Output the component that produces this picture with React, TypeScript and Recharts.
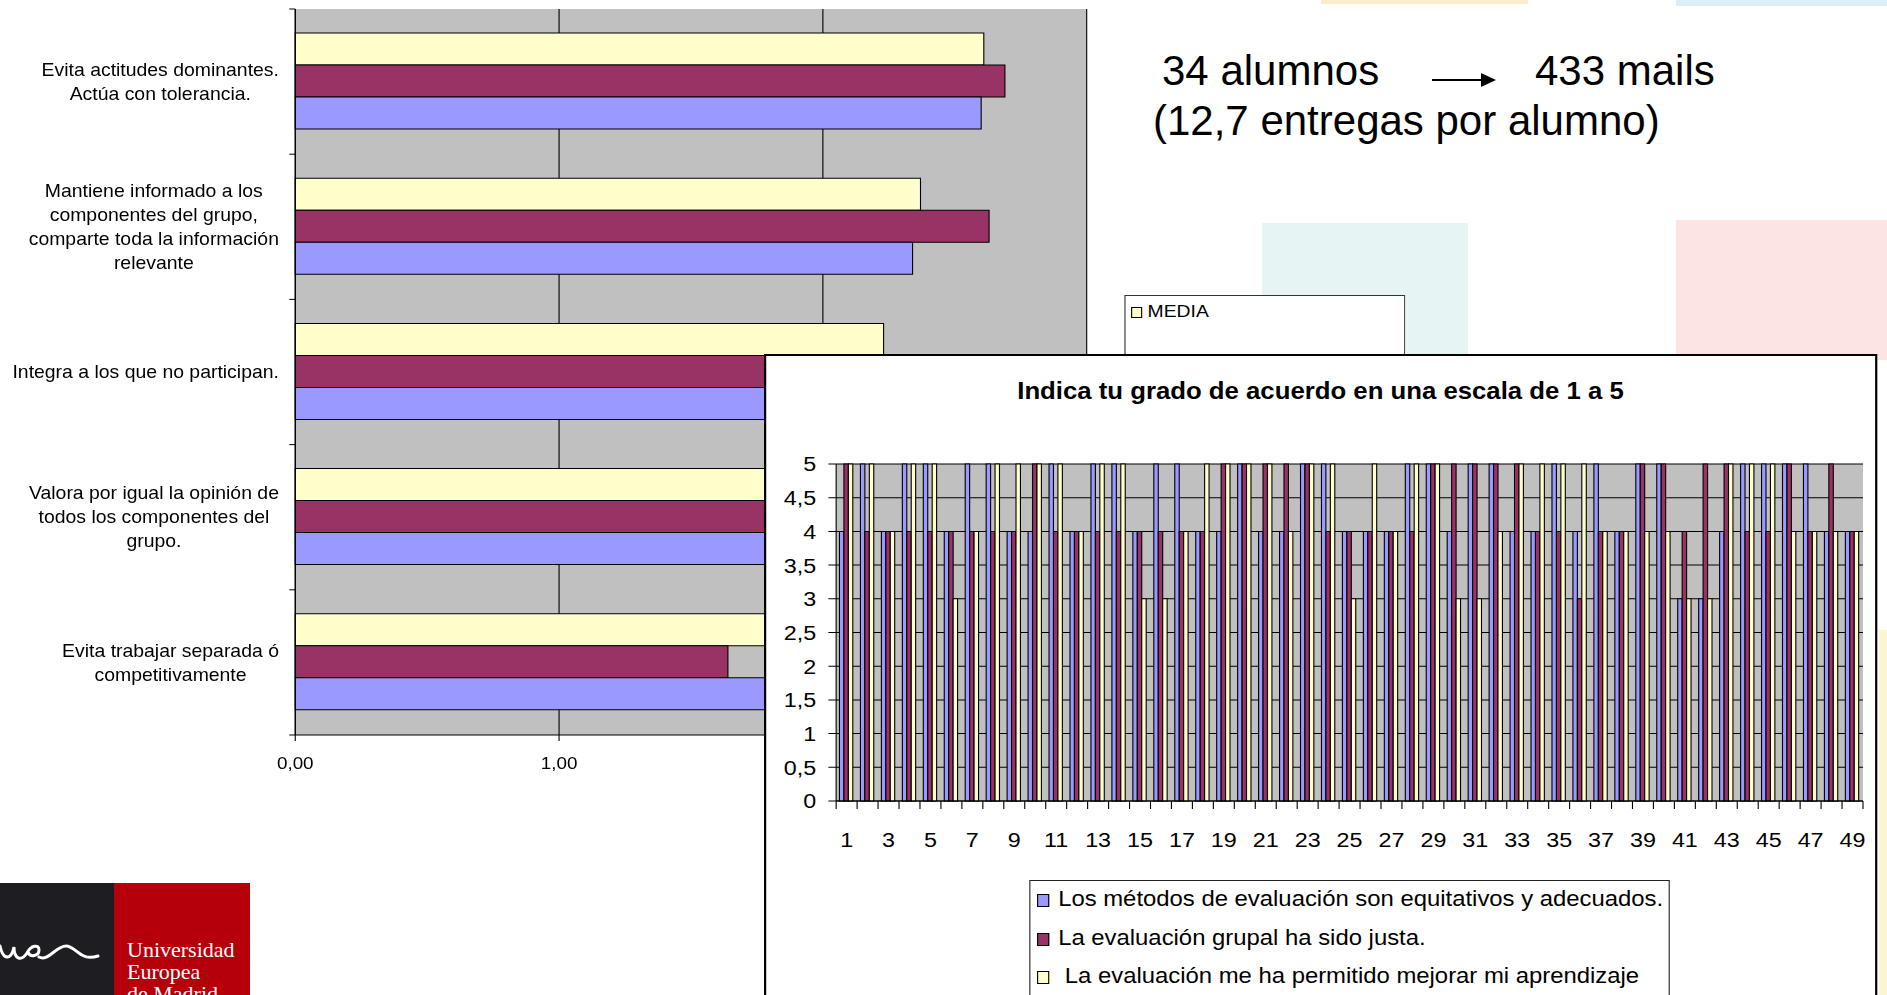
import React from "react";
import { BarChart, Bar, XAxis, YAxis, CartesianGrid, Legend } from "recharts";

// both pasted charts are stretched sideways on the slide, text too
const S = 1.11;
const FONT = "'Liberation Sans', Arial, sans-serif";

const BLUE = "#9999FF";
const MAROON = "#993366";
const YELLOW = "#FFFFCC";
const PLOT_BG = "#C0C0C0";

// ---- back chart (group work, horizontal bars) ----
const backCategories = [
  "Evita actitudes dominantes.\nActúa con tolerancia.",
  "Mantiene informado a los\ncomponentes del grupo,\ncomparte toda la información\nrelevante",
  "Integra a los que no participan.",
  "Valora por igual la opinión de\ntodos los componentes del\ngrupo.",
  "Evita trabajar separada ó\ncompetitivamente",
];
const backMedia = [2.61, 2.37, 2.23, 2.4, 2.1];
const backSerie2 = [2.69, 2.63, 2.3, 2.5, 1.64];
const backSerie1 = [2.6, 2.34, 2.3, 2.3, 2.0];
const backTicks = [0, 1, 2, 3];

// ---- front chart (one group of bars per student) ----
const respondents = [
  "1", "2", "3", "4", "5", "6", "7", "8", "9", "10", "11", "12", "13", "14", "15", "16", "17",
  "18", "19", "20", "21", "22", "23", "24", "25", "26", "27", "28", "29", "30", "31", "32", "33",
  "34", "35", "36", "37", "38", "39", "40", "41", "42", "43", "44", "45", "46", "47", "48", "49",
];
const metodos = [4, 5, 4, 5, 5, 4, 5, 5, 4, 4, 5, 4, 5, 5, 4, 5, 5, 4, 4, 5, 4, 4, 5, 5, 4, 4, 4, 5, 5, 4, 5, 5, 4, 4, 5, 4, 5, 4, 5, 5, 3, 3, 4, 5, 5, 5, 5, 4, 4];
const grupal = [5, 4, 4, 4, 4, 4, 4, 4, 4, 5, 4, 4, 4, 4, 4, 4, 4, 4, 5, 5, 5, 5, 5, 4, 4, 4, 4, 4, 5, 5, 5, 5, 5, 4, 4, 3, 4, 4, 5, 5, 4, 5, 5, 4, 4, 5, 4, 5, 4];
const aprendizaje = [5, 5, 4, 5, 5, 3, 4, 5, 5, 5, 5, 4, 5, 5, 3, 3, 4, 5, 5, 5, 5, 4, 5, 5, 3, 5, 4, 5, 5, 3, 3, 4, 5, 5, 5, 5, 4, 4, 4, 4, 3, 3, 5, 5, 5, 4, 4, 4, 4];
const frontTicks = [0, 0.5, 1, 1.5, 2, 2.5, 3, 3.5, 4, 4.5, 5];
const frontOrder = ["metodos", "grupal", "aprendizaje"];

const backData = backCategories.map((label, i) => ({
  label,
  media: backMedia[i],
  s2: backSerie2[i],
  s1: backSerie1[i],
}));

const frontData = respondents.map((r, i) => ({
  r,
  metodos: metodos[i],
  grupal: grupal[i],
  aprendizaje: aprendizaje[i],
}));

let ctx: CanvasRenderingContext2D | null = null;
const textWidth = (s: string, font: string) => {
  if (!ctx) ctx = document.createElement("canvas").getContext("2d");
  if (!ctx) return s.length * 8;
  ctx.font = font;
  return ctx.measureText(s).width;
};

const BackCategoryTick = (props: any) => {
  const { x, y, payload, index } = props;
  const half = payload?.offset ?? 72.6;
  const lines = String(payload.value).split("\n");
  const widest = Math.max(...lines.map((l) => textWidth(l, `17.5px "Liberation Sans"`)));
  const cx = x - 14.6 - widest / 2;
  return (
    <g>
      <line x1={x - 5.4} x2={x} y1={y - half} y2={y - half} stroke="#000" />
      {index === backCategories.length - 1 && (
        <line x1={x - 5.4} x2={x} y1={y + half} y2={y + half} stroke="#000" />
      )}
      {lines.map((l, i) => (
        <text
          key={i}
          x={cx}
          y={y + (i - (lines.length - 1) / 2) * 24}
          dy="0.36em"
          textAnchor="middle"
          fontSize={17.5}
          fontFamily={FONT}
          fill="#000"
        >
          {l}
        </text>
      ))}
    </g>
  );
};

const FrontXTick = (props: any) => {
  const { x, y, payload, index } = props;
  const half = payload?.offset ?? 9.44;
  const odd = Number(payload.value) % 2 === 1;
  return (
    <g>
      <line x1={x - half} x2={x - half} y1={y} y2={y + 8} stroke="#000" />
      {index === respondents.length - 1 && (
        <line x1={x + half} x2={x + half} y1={y} y2={y + 8} stroke="#000" />
      )}
      {odd && (
        <text x={x} y={y + 38} dy="0.36em" textAnchor="middle" fontSize={21} fontFamily={FONT} fill="#000">
          {payload.value}
        </text>
      )}
    </g>
  );
};

const BackLegend = ({ payload }: any) => (
  <div style={{ width: 253, height: 120, border: "1px solid #333", background: "#fff", boxSizing: "border-box", position: "relative" }}>
    {(payload || [])
      .filter((p: any) => p.dataKey === "media")
      .map((p: any) => (
        <div key={p.value} style={{ position: "absolute", left: 5.3, top: 2, height: 26, lineHeight: "26px", fontSize: 17.4, fontFamily: FONT, color: "#000", whiteSpace: "pre" }}>
          <span style={{ display: "inline-block", width: 8, height: 9, border: "1px solid #000", background: p.color, verticalAlign: "-1px", marginRight: 5 }} />
          {p.value}
        </div>
      ))}
  </div>
);

const FrontLegend = ({ payload }: any) => {
  const items = [...(payload || [])].sort(
    (a: any, b: any) => frontOrder.indexOf(a.dataKey) - frontOrder.indexOf(b.dataKey)
  );
  return (
    <div style={{ width: 577.5, height: 160, border: "1px solid #222", background: "#fff", boxSizing: "border-box", position: "relative" }}>
      {items.map((p: any, i: number) => (
        <div key={p.value} style={{ position: "absolute", left: 6.2, top: -1 + i * 38.5, height: 38.5, lineHeight: "38.5px", fontSize: 21.5, fontFamily: FONT, color: "#000", whiteSpace: "pre" }}>
          <span style={{ display: "inline-block", width: 9, height: 11, border: "1px solid #000", background: p.color, verticalAlign: "-1px", marginRight: 8 }} />
          {p.value}
        </div>
      ))}
    </div>
  );
};

const fmt = (v: number, d?: number) => (d === undefined ? String(v) : v.toFixed(d)).replace(".", ",");

export default function App() {
  return (
    <div style={{ position: "fixed", left: 0, top: 0, width: 1887, height: 995, overflow: "hidden", background: "#fff", fontFamily: FONT }}>
      {/* slide decoration, text and logo */}
      <svg width={1887} height={995} style={{ position: "absolute", left: 0, top: 0 }}>
        <rect x={1321} y={0} width={207} height={4} fill="#FCEBC9" />
        <rect x={1676} y={0} width={211} height={6} fill="#DCEEF5" />
        <rect x={1262} y={223} width={206} height={140} fill="#E7F4F4" />
        <rect x={1676} y={220} width={211} height={140} fill="#FDE4E4" />
        <rect x={1879} y={630} width={8} height={365} fill="#FAF6D2" />

        <text x={1162} y={85} fontSize={42} fontFamily={FONT} fill="#000">34 alumnos</text>
        <line x1={1432} x2={1484} y1={80} y2={80} stroke="#000" strokeWidth={2.2} />
        <polygon points="1481,73 1496,80 1481,87" fill="#000" />
        <text x={1535} y={85} fontSize={42} fontFamily={FONT} fill="#000">433 mails</text>
        <text x={1153} y={135} fontSize={42} fontFamily={FONT} fill="#000">(12,7 entregas por alumno)</text>

        <rect x={0} y={883} width={114} height={112} fill="#1E1E22" />
        <rect x={114} y={883} width={136} height={112} fill="#B5000B" />
        <path
          d="M0 946 C3 960 11 961 14 947 C14 959 21 962 27 953 C31 945 39 944 39 950 C39 956 30 958 28 952 M39 957 C48 962 56 946 66 946 C76 946 80 962 98 956"
          fill="none"
          stroke="#fff"
          strokeWidth={3}
          strokeLinecap="round"
        />
        <g fontFamily="'Liberation Serif', 'DejaVu Serif', serif" fontSize={22} fill="#fff">
          <text x={127} y={957}>Universidad</text>
          <text x={127} y={979}>Europea</text>
          <text x={127} y={1001}>de Madrid</text>
        </g>
      </svg>

      {/* back chart */}
      <div style={{ position: "absolute", left: 0, top: 0, transform: `scaleX(${S})`, transformOrigin: "0 0" }}>
        <BarChart
          width={1279}
          height={800}
          data={backData}
          layout="vertical"
          margin={{ top: 9, right: 300, left: 11, bottom: 25 }}
          barCategoryGap={24}
          barGap={0}
        >
          <CartesianGrid horizontal={false} stroke="#000" fill={PLOT_BG} fillOpacity={1} />
          <XAxis
            type="number"
            domain={[0, 3]}
            ticks={backTicks}
            tickFormatter={(v) => fmt(v, 2)}
            height={40}
            stroke="#000"
            tickSize={6}
            tickMargin={16}
            tick={{ fontSize: 17, fill: "#000", fontFamily: FONT }}
          />
          <YAxis
            type="category"
            dataKey="label"
            width={255}
            stroke="#000"
            tickLine={false}
            tickSize={0}
            tickMargin={0}
            interval={0}
            tick={<BackCategoryTick />}
          />
          <Legend
            layout="vertical"
            align="center"
            verticalAlign="middle"
            content={<BackLegend />}
            wrapperStyle={{ left: 1012.6, top: 295, width: 253, height: 120 }}
          />
          <Bar dataKey="media" name="MEDIA" fill={YELLOW} stroke="#000" isAnimationActive={false} />
          <Bar dataKey="s2" name="serie 2" fill={MAROON} stroke="#000" isAnimationActive={false} />
          <Bar dataKey="s1" name="serie 1" fill={BLUE} stroke="#000" isAnimationActive={false} />
        </BarChart>
      </div>

      {/* front chart */}
      <div
        style={{
          position: "absolute",
          left: 764,
          top: 354,
          width: 1002.7,
          height: 700,
          border: "2px solid #000",
          boxSizing: "border-box",
          background: "#fff",
          transform: `scaleX(${S})`,
          transformOrigin: "0 0",
        }}
      >
        <div style={{ position: "absolute", left: 0, top: 21, width: "100%", height: 28, lineHeight: "28px", textAlign: "center", fontWeight: "bold", fontSize: 23.2, color: "#000" }}>
          Indica tu grado de acuerdo en una escala de 1 a 5
        </div>
        <BarChart
          width={998.7}
          height={696}
          data={frontData}
          margin={{ top: 108, right: 10.6, left: 13, bottom: 206 }}
          barCategoryGap={3}
          barGap={0}
        >
          <CartesianGrid vertical={false} stroke="#000" fill={PLOT_BG} fillOpacity={1} />
          <XAxis
            dataKey="r"
            height={45}
            stroke="#000"
            tickLine={false}
            tickSize={0}
            tickMargin={0}
            interval={0}
            tick={<FrontXTick />}
          />
          <YAxis
            domain={[0, 5]}
            ticks={frontTicks}
            tickFormatter={(v) => fmt(v)}
            width={50}
            stroke="#000"
            tickSize={7}
            tickMargin={11}
            tick={{ fontSize: 21, fill: "#000", fontFamily: FONT }}
          />
          <Legend
            layout="vertical"
            align="center"
            verticalAlign="middle"
            content={<FrontLegend />}
            wrapperStyle={{ left: 236.8, top: 524, width: 577.5, height: 160 }}
          />
          <Bar dataKey="metodos" name="Los métodos de evaluación son equitativos y adecuados." fill={BLUE} stroke="#000" isAnimationActive={false} />
          <Bar dataKey="grupal" name="La evaluación grupal ha sido justa." fill={MAROON} stroke="#000" isAnimationActive={false} />
          <Bar dataKey="aprendizaje" name=" La evaluación me ha permitido mejorar mi aprendizaje" fill={YELLOW} stroke="#000" isAnimationActive={false} />
        </BarChart>
      </div>
    </div>
  );
}
